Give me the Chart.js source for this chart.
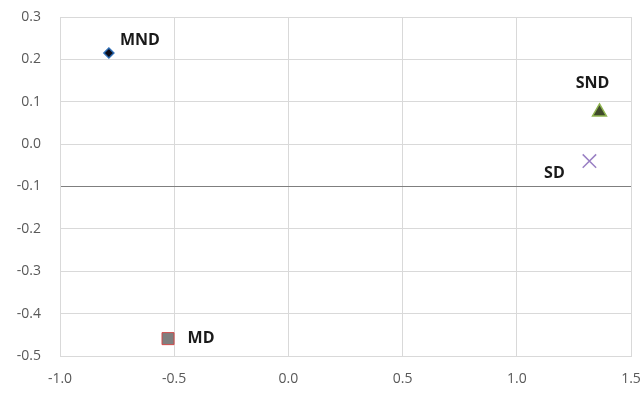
<!DOCTYPE html>
<html><head><meta charset="utf-8">
<script src="https://cdn.jsdelivr.net/npm/chart.js@4/dist/chart.umd.min.js"></script>
<style>html,body{margin:0;padding:0;background:#fff}#wrap{width:643px;height:394px}</style>
</head><body><div id="wrap"><canvas id="c" width="643" height="394"></canvas></div>
<script>
const names = ['MND', 'MD', 'SND', 'SD'];
const xValues = [-0.786, -0.527, 1.362, 1.318];
const yValues = [0.215, -0.459, 0.076, -0.040];
const xTicks = [-1.0, -0.5, 0.0, 0.5, 1.0, 1.5];
const yTicks = [0.3, 0.2, 0.1, 0.0, -0.1, -0.2, -0.3, -0.4, -0.5];

const styles = [
  {pointStyle:'rectRot', bg:'#0d0d1a', border:'#2f6eb5', r:5, bw:1.5},
  {pointStyle:'rect', bg:'#7f7f7f', border:'#d04a4a', r:8.5, bw:1},
  {pointStyle:'triangle', bg:'#3f4a2a', border:'#8fb450', r:8, bw:1.5},
  {pointStyle:'crossRot', bg:'#8a6fb5', border:'#9a80c4', r:9.5, bw:1.5}
];
const labelPos = [
  {dx:31, dy:-13},
  {dx:33, dy:0},
  {dx:-7, dy:-28},
  {dx:-35, dy:12}
];

const datasets = names.map((n,i)=>({
  label:n,
  data:[{x:xValues[i], y:yValues[i]}],
  pointStyle:styles[i].pointStyle,
  backgroundColor:styles[i].bg,
  borderColor:styles[i].border,
  pointRadius:styles[i].r,
  pointBorderWidth:styles[i].bw,
  pointHoverRadius:styles[i].r
}));

const labelPlugin = {
  id:'labels',
  afterDatasetsDraw(chart){
    const ctx = chart.ctx;
    ctx.save();
    ctx.font = 'bold 16px "Open Sans", sans-serif';
    ctx.fillStyle = '#1a1a1a';
    ctx.textBaseline = 'middle';
    ctx.textAlign = 'center';
    chart.data.datasets.forEach((ds,i)=>{
      const el = chart.getDatasetMeta(i).data[0];
      const p = labelPos[i];
      ctx.fillText(names[i], el.x + p.dx, el.y + p.dy);
    });
    ctx.restore();
  }
};

new Chart(document.getElementById('c'), {
  type:'scatter',
  data:{datasets},
  plugins:[labelPlugin],
  options:{
    responsive:false,
    animation:false,
    layout:{padding:{left:0,right:12,top:17,bottom:0}},
    plugins:{legend:{display:false},tooltip:{enabled:false}},
    scales:{
      x:{
        type:'linear', min:-1.0, max:1.5,
        afterBuildTicks(s){ s.ticks = xTicks.map(v=>({value:v})); },
        afterFit(s){ s.height = 38; s.paddingLeft = 0; s.paddingRight = 0; },
        grid:{color:'#d9d9d9', lineWidth:1, drawTicks:false},
        border:{color:'#d9d9d9'},
        ticks:{color:'#595959', font:{family:'"Open Sans", sans-serif', size:14}, padding:15,
          maxRotation:0, callback:v=>Number(v).toFixed(1)}
      },
      y:{
        type:'linear', min:-0.5, max:0.3,
        afterBuildTicks(s){ s.ticks = yTicks.map(v=>({value:v})); },
        afterFit(s){ s.width = 60; s.paddingTop = 0; s.paddingBottom = 0; },
        grid:{color:ctx=> (ctx.tick && Math.abs(ctx.tick.value + 0.1) < 1e-9) ? '#7f7f7f' : '#d9d9d9', lineWidth:1, drawTicks:false},
        border:{color:'#d9d9d9'},
        ticks:{color:'#595959', font:{family:'"Open Sans", sans-serif', size:14}, padding:19,
          callback:v=>Number(v).toFixed(1)}
      }
    }
  }
});
</script></body></html>
